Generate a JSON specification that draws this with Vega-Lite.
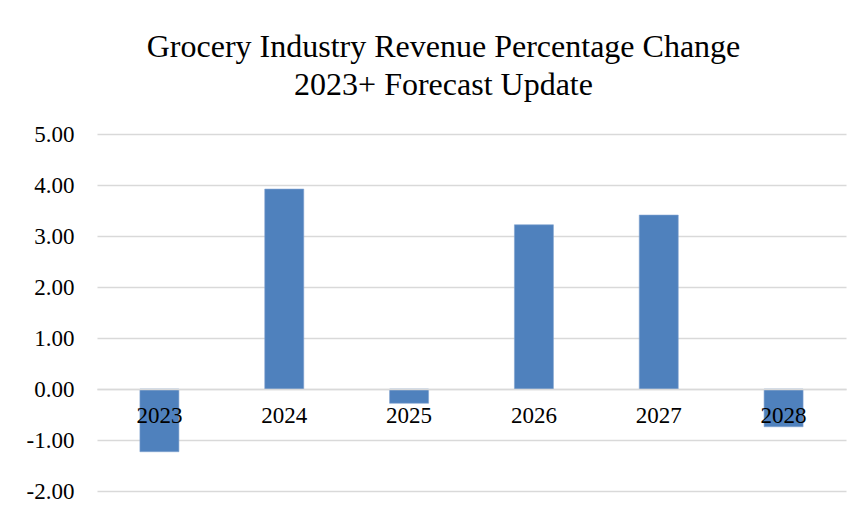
{
  "$schema": "https://vega.github.io/schema/vega-lite/v6.json",
  "autosize": "none",
  "width": 749,
  "height": 357,
  "padding": {"left": 97, "top": 134, "right": 16, "bottom": 25},
  "background": "white",
  "data": {
    "values": [
      {"year": "2023", "change": -1.23},
      {"year": "2024", "change": 3.92},
      {"year": "2025", "change": -0.28},
      {"year": "2026", "change": 3.22},
      {"year": "2027", "change": 3.41},
      {"year": "2028", "change": -0.74}
    ]
  },
  "title": {
    "text": ["Grocery Industry Revenue Percentage Change", "2023+ Forecast Update"],
    "font": "Liberation Serif",
    "fontSize": 32,
    "fontWeight": "normal",
    "color": "#000000",
    "lineHeight": 38,
    "anchor": "middle",
    "frame": "group",
    "baseline": "bottom",
    "dx": -28,
    "offset": -11
  },
  "mark": {"type": "bar", "size": 39, "color": "#4F81BD", "stroke": "#7FA3D0", "strokeWidth": 0.6},
  "encoding": {
    "x": {
      "field": "year",
      "type": "ordinal",
      "sort": null,
      "scale": {"paddingInner": 0, "paddingOuter": 0},
      "axis": {
        "title": null,
        "orient": "bottom",
        "offset": -102,
        "domain": true,
        "domainColor": "#D9D9D9",
        "domainWidth": 1.5,
        "ticks": false,
        "labelAngle": 0,
        "labelFont": "Liberation Serif",
        "labelFontSize": 23,
        "labelColor": "#000000",
        "labelPadding": 15,
        "grid": false,
        "zindex": 1
      }
    },
    "y": {
      "field": "change",
      "type": "quantitative",
      "scale": {"domain": [-2, 5], "nice": false, "zero": false},
      "axis": {
        "title": null,
        "values": [-2, -1, 0, 1, 2, 3, 4, 5],
        "labelExpr": "replace(format(datum.value, '.2f'), '\u2212', '-')",
        "domain": false,
        "ticks": false,
        "grid": true,
        "gridColor": "#D9D9D9",
        "gridWidth": 1.5,
        "labelFont": "Liberation Serif",
        "labelFontSize": 23,
        "labelColor": "#000000",
        "labelPadding": 23,
        "zindex": 0
      }
    }
  },
  "config": {
    "view": {"stroke": null}
  }
}
